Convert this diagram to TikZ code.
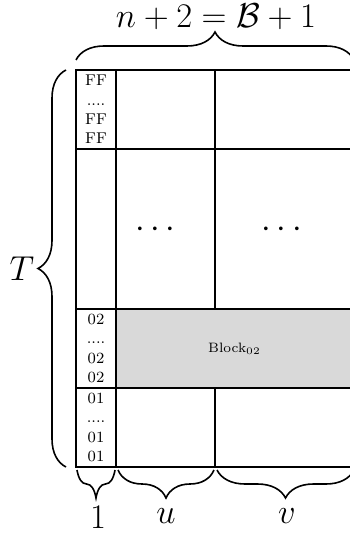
\documentclass[tikz,border=0pt]{standalone}
\usepackage{amsfonts,amsmath}
\usetikzlibrary{decorations.pathreplacing}

\begin{document}
\begin{tikzpicture}[x=.5pt,y=-.5pt,
  bracedec/.style={thick,decorate,decoration={brace,amplitude=14pt}},
  idcell/.style={font=\fontsize{7.8}{9.7}\selectfont,align=center,inner sep=0pt},
  biglabel/.style={font=\fontsize{16}{19}\selectfont,inner sep=0pt}]
\useasboundingbox (0,0) rectangle (349,533);

\fill[gray!30](116,309) rectangle (354,388);
\draw[thick](76,70) rectangle (354,467);
\draw[thick](76,149)--(354,149);
\draw[thick](76,309)--(354,309);
\draw[thick](76,388)--(354,388);
\draw[thick](116,70)--(116,467);
\draw[thick](215,70)--(215,309);
\draw[thick](215,388)--(215,467);

\node[idcell] (ffcell) at (96,109.5) {FF\\....\\FF\\FF};
\node[idcell] (twocell) at (96,348.5) {02\\....\\02\\02};
\node[idcell] (onecell) at (96,427.5) {01\\....\\01\\01};
\node[font=\fontsize{6.8}{8}\selectfont] (block) at (234.5,349) {Block$_{02}$};
\node[biglabel] (udots) at (158.3,230) {$\cdots$};
\node[biglabel] (vdots) at (284.5,230) {$\cdots$};

\draw[bracedec](76,60)--(354,60);
\draw[bracedec](66,467)--(66,70);
\draw[bracedec](115,470)--(77,470);
\draw[bracedec](214,470)--(118,470);
\draw[bracedec](354,470)--(217,470);

\node[biglabel] (width) at (216,17) {$n+2=\mathcal{B}+1$};
\node[biglabel] (height) at (22,269) {$T$};
\node[biglabel] (one) at (98,517) {$1$};
\node[biglabel] (ucols) at (166,516.5) {$u$};
\node[biglabel] (vcols) at (287,516.5) {$v$};
\end{tikzpicture}
\end{document}
